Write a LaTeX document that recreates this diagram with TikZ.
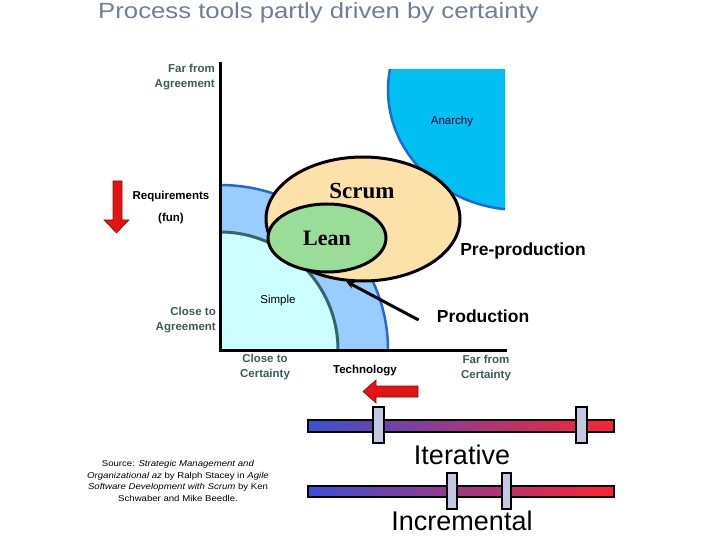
\documentclass[tikz,border=0pt]{standalone}
\usepackage{fontspec}
\setmainfont{Liberation Sans}
\newfontfamily\scrumface{Liberation Serif}
\newfontfamily\titleface[FakeStretch=1.17]{Liberation Sans}
\newfontfamily\sourceface[FakeStretch=1.13]{Liberation Sans}
\usetikzlibrary{shapes.geometric,arrows.meta,positioning}
\definecolor{titlegrey}{HTML}{6F7F99}
\definecolor{axislbl}{HTML}{3C5C5C}
\definecolor{anarchyfill}{HTML}{00BFF3}
\definecolor{regionline}{HTML}{1F6BD1}
\definecolor{complexfill}{HTML}{99CCFF}
\definecolor{simplefill}{HTML}{CCFFFF}
\definecolor{simpleline}{HTML}{336666}
\definecolor{scrumfill}{HTML}{FCE1A8}
\definecolor{leanfill}{HTML}{99DD99}
\definecolor{arrowred}{HTML}{E31414}
\definecolor{barblue}{HTML}{3B4FD6}
\definecolor{barmid}{HTML}{A8359A}
\definecolor{barred}{HTML}{FF2233}
\definecolor{sliderfill}{HTML}{C3C9E3}
\tikzset{
  axislabel/.style={text=axislbl, font=\fontsize{11.5}{15}\selectfont\bfseries, align=center, inner sep=0},
  smalllabel/.style={font=\fontsize{11.5}{15}\selectfont, inner sep=0},
  boldlabel/.style={font=\fontsize{17.5}{21}\selectfont\bfseries, inner sep=0},
  biglabel/.style={font=\fontsize{27}{32}\selectfont, inner sep=0},
  bar/.style={draw=black, line width=2.5pt, left color=barblue, middle color=barmid, right color=barred},
  slider/.style={draw=black, line width=2.5pt, fill=sliderfill},
  redarrow/.style={fill=arrowred, draw=arrowred!60!black, line width=0.6pt}
}
\begin{document}
\begin{tikzpicture}[x=1pt,y=-1pt]
        \useasboundingbox (0,0) rectangle (720,540);

        % Header
        \node[anchor=base west, inner sep=0, text=titlegrey, font=\titleface\fontsize{22}{26}\selectfont] (title) at (98,19) {Process tools partly driven by certainty};

        % Anarchy
        \begin{scope}
            \clip (380,70) rectangle (505,215);
            \fill[anarchyfill] (520,90) ellipse [x radius=132pt, y radius=120pt];
            \draw[regionline, line width=2.5pt] (520,90) ellipse [x radius=132pt, y radius=120pt];
        \end{scope}
        \node[smalllabel, text=black!80!blue] (anarchy) at (452,122) {Anarchy};

        % Complicated and simple regions
        \begin{scope}
            \clip (220,150) rectangle (430,350);
            \fill[complexfill] (220,350) ellipse [x radius=168pt, y radius=165pt];
            \draw[regionline, line width=2.5pt] (220,350) ellipse [x radius=168pt, y radius=165pt];
            \fill[simplefill] (220,350) circle [radius=118pt];
            \draw[simpleline, line width=3pt] (220,350) circle [radius=118pt];
        \end{scope}
        \node[smalllabel] (simple) at (278,301) {Simple};

        % Axes
        \draw[line width=3pt] (220,62) -- (220,350) -- (507,350);

        % Scrum and Lean
        \node[ellipse, draw, line width=3pt, fill=scrumfill, minimum width=194pt, minimum height=124pt, inner sep=0] (scrum) at (363,219) {};
        \node[font=\scrumface\fontsize{23}{26}\selectfont\bfseries, inner sep=0] (scrumlbl) at (362,191) {Scrum};
        \node[ellipse, draw, line width=3pt, fill=leanfill, minimum width=118pt, minimum height=68pt, inner sep=0, font=\scrumface\fontsize{22}{26}\selectfont\bfseries] (lean) at (327,238) {Lean};

        % Axis labels
        \node[axislabel, align=right, anchor=east] (faragree) at (215,77) {Far from\\Agreement};
        \node[axislabel, align=right, anchor=east] (closeagree) at (216,320) {Close to\\Agreement};
        \node[axislabel] (closecert) at (265,367) {Close to\\Certainty};
        \node[axislabel] (farcert) at (486,368) {Far from\\Certainty};
        \node[smalllabel, font=\fontsize{11.5}{15}\selectfont\bfseries] (req) at (171,197) {Requirements};
        \node[smalllabel, font=\fontsize{11.5}{15}\selectfont\bfseries] (fun) at (171,219) {(fun)};
        \node[smalllabel, font=\fontsize{11.5}{15}\selectfont\bfseries] (tech) at (365,371) {Technology};

        % Pre-production / Production
        \node[boldlabel] (preprod) at (523,251) {Pre-production};
        \node[boldlabel] (prod) at (483,316) {Production};
        \draw[line width=3pt, -{Stealth[length=8pt,width=7pt]}] ([shift={(-18,4)}]prod.west) -- (scrum.255);

        % Red arrows
        \draw[redarrow] (113,181) -- (122,181) -- (122,220) -- (129,220) -- (116.5,233) -- (104,220) -- (113,220) -- cycle;
        \draw[redarrow] (418,386) -- (418,397) -- (376,397) -- (376,403) -- (363,391.5) -- (376,380) -- (376,386) -- cycle;

        % Iterative
        \draw[bar] (308,420) rectangle (614,432);
        \draw[slider] (373,407) rectangle (384,443);
        \draw[slider] (576,407) rectangle (587,443);
        \node[biglabel] (iter) at (462,455) {Iterative};

        % Incremental
        \draw[bar] (308,486) rectangle (614,497);
        \draw[slider] (447,473) rectangle (457,509);
        \draw[slider] (502,473) rectangle (511,509);
        \node[biglabel] (incr) at (462,521) {Incremental};

        % Source
        \node[align=center, inner sep=0, font=\sourceface\fontsize{8.5}{11.8}\selectfont] (source) at (178,481) {
            Source: \textit{Strategic Management and}\\
            \textit{Organizational az} by Ralph Stacey in \textit{Agile}\\
            \textit{Software Development with Scrum} by Ken\\
            Schwaber and Mike Beedle.
        };
\end{tikzpicture}
\end{document}
